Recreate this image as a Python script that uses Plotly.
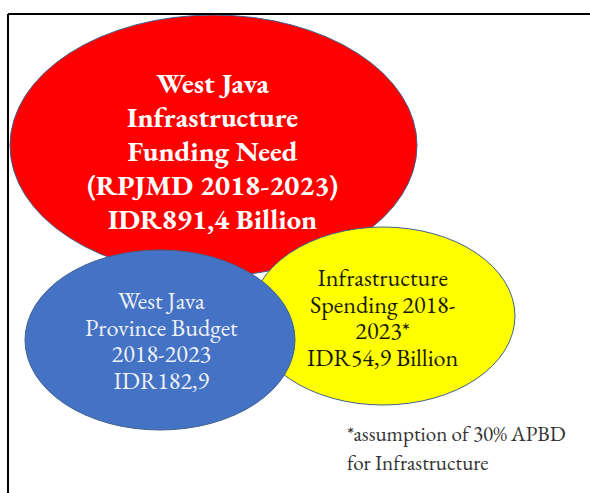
import plotly.graph_objects as go

# Budget figures (IDR billion) shown in each bubble
funding_need = 891.4
province_budget = 182.9
infra_spending = 54.9


def idr(v):
    return "IDR" + f"{v:.1f}".replace(".", ",")


need_lines = ["West Java", "Infrastructure", "Funding Need",
              "(RPJMD 2018-2023)", idr(funding_need) + " Billion"]
budget_lines = ["West Java", "Province Budget", "2018-2023", idr(province_budget)]
spending_lines = ["Infrastructure", "Spending 2018-", "2023*", idr(infra_spending) + " Billion"]
note_lines = ["*assumption of 30% APBD", "for Infrastructure"]

W, H = 590, 493
SERIF = "EB Garamond, Liberation Serif, serif"
OUTLINE = "#41618f"

fig = go.Figure()

# bubbles: (x0, y0, x1, y1) in page pixels, drawn back to front
bubbles = [
    dict(box=(10, 15, 417, 276), fill="#ff0000"),   # funding need
    dict(box=(251, 227, 515, 405), fill="#ffff00"),  # infrastructure spending
    dict(box=(25, 250, 295, 430), fill="#4472c4"),   # province budget
]
shapes = []
for b in bubbles:
    x0, y0, x1, y1 = b["box"]
    shapes.append(dict(type="circle", xref="x", yref="y", x0=x0, y0=y0, x1=x1, y1=y1,
                       fillcolor=b["fill"], line=dict(color=OUTLINE, width=1), layer="below"))

# open frame: top and left rules
shapes.append(dict(type="line", xref="x", yref="y", x0=8, y0=14, x1=W, y1=14,
                   line=dict(color="#000000", width=2)))
shapes.append(dict(type="line", xref="x", yref="y", x0=8, y0=14, x1=8, y1=H,
                   line=dict(color="#000000", width=2)))

annotations = []


def add_block(lines, x, y, size, color, step, bold=False, anchor="center"):
    # plotly spaces <br> lines by 1.3 x the annotation font size, so the base size
    # sets the line pitch while each line's span sets the glyph size
    body = []
    for line in lines:
        t = f"<b>{line}</b>" if bold else line
        body.append(f'<span style="font-size:{size}px">{t}</span>')
    annotations.append(dict(x=x, y=y, xref="x", yref="y", text="<br>".join(body),
                            showarrow=False, xanchor=anchor, yanchor="middle",
                            align=anchor if anchor != "center" else "center",
                            borderpad=0,
                            font=dict(family=SERIF, size=step / 1.3, color=color)))


add_block(need_lines, 212, 150, 28.5, "#ffffff", 34, bold=True)
add_block(budget_lines, 161, 340, 24.2, "#eef1f7", 26.7)
add_block(spending_lines, 383, 317, 24.2, "#1a1a05", 26.7)
add_block(note_lines, 346, 447.5, 21.1, "#333333", 29, anchor="left")

fig.update_layout(
    width=W, height=H,
    margin=dict(l=0, r=0, t=0, b=0),
    paper_bgcolor="#ffffff", plot_bgcolor="#ffffff",
    font=dict(family=SERIF),
    xaxis=dict(range=[0, W], visible=False, fixedrange=True),
    yaxis=dict(range=[H, 0], visible=False, fixedrange=True),
    shapes=shapes, annotations=annotations,
    showlegend=False,
)

fig.write_html("out.html", config={"displayModeBar": False})
